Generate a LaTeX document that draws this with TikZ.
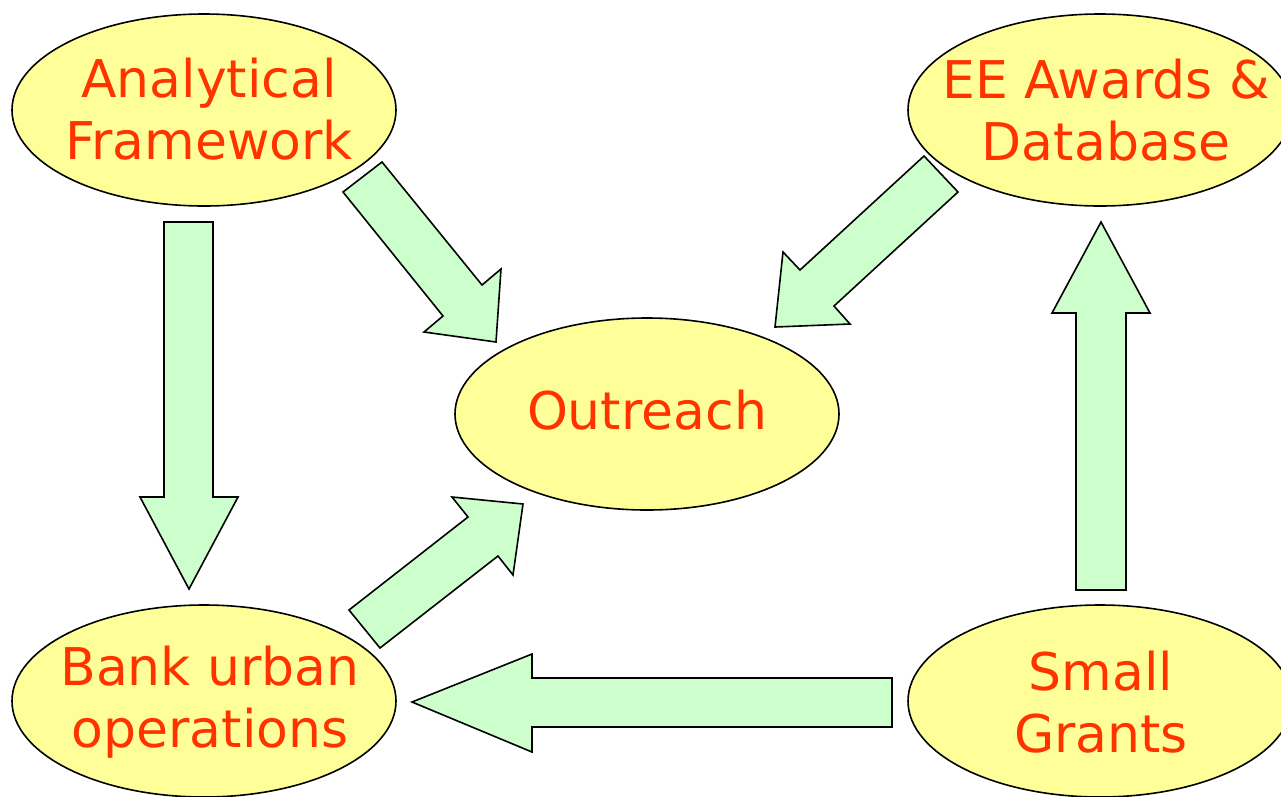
\documentclass[tikz,border=0pt]{standalone}
\usepackage{fontspec}
\setmainfont{DejaVu Sans}
\usetikzlibrary{shapes.geometric}
\definecolor{ellfill}{HTML}{FFFF99}
\definecolor{arrfill}{HTML}{CCFFCC}
\definecolor{txtred}{HTML}{FF3300}
\tikzset{
  blob/.style={ellipse, draw=black, line width=1.6pt, fill=ellfill, minimum width=384pt, minimum height=192pt, inner sep=0pt},
  lbl/.style={text=txtred, align=center, font=\fontsize{52}{62}\selectfont, inner sep=0pt},
  blockarrow/.style={draw=black, line width=1.6pt, fill=arrfill, line join=miter}
}
\begin{document}
\begin{tikzpicture}[x=1pt,y=-1pt]
\useasboundingbox (0,0) rectangle (1281,796);
% ellipses
\node[blob] (af) at (204,110) {};
\node[blob] (ee) at (1100,110) {};
\node[blob] (out) at (647,414) {};
\node[blob] (bank) at (204,701) {};
\node[blob] (sg) at (1100,701) {};
% labels
\node[lbl] (afl) at ([xshift=5pt,yshift=1pt]af.center) {Analytical\\Framework};
\node[lbl] (eel) at ([xshift=6pt,yshift=0pt]ee.center) {EE Awards \&\\Database};
\node[lbl] (outl) at ([xshift=0pt,yshift=4pt]out.center) {Outreach};
\node[lbl] (bankl) at ([xshift=6pt,yshift=-1pt]bank.center) {Bank urban\\operations};
\node[lbl] (sgl) at ([xshift=1pt,yshift=-1pt]sg.center) {Small\\Grants};
% block arrows
% Analytical Framework -> Bank urban operations
\draw[blockarrow] (164,222) -- (213,222) -- (213,497) -- (238,497) -- (189,589) -- (140,497) -- (164,497) -- cycle;
% Analytical Framework -> Outreach
\draw[blockarrow] (343,192) -- (382,162) -- (482,285) -- (501,269) -- (496,342) -- (424,332) -- (443,316) -- cycle;
% EE Awards -> Outreach
\draw[blockarrow] (924,156) -- (958,192) -- (834,306) -- (850,324) -- (775,327) -- (783,252) -- (800,270) -- cycle;
% Bank urban operations -> Outreach
\draw[blockarrow] (349,610) -- (468,517) -- (452,497) -- (523,504) -- (513,575) -- (498,556) -- (380,648) -- cycle;
% Small Grants -> EE Awards
\draw[blockarrow] (1076,590) -- (1126,590) -- (1126,313) -- (1150,313) -- (1101,222) -- (1052,313) -- (1076,313) -- cycle;
% Small Grants -> Bank urban operations
\draw[blockarrow] (892,678) -- (892,727) -- (532,727) -- (532,752) -- (412,702) -- (532,654) -- (532,678) -- cycle;
\end{tikzpicture}
\end{document}
